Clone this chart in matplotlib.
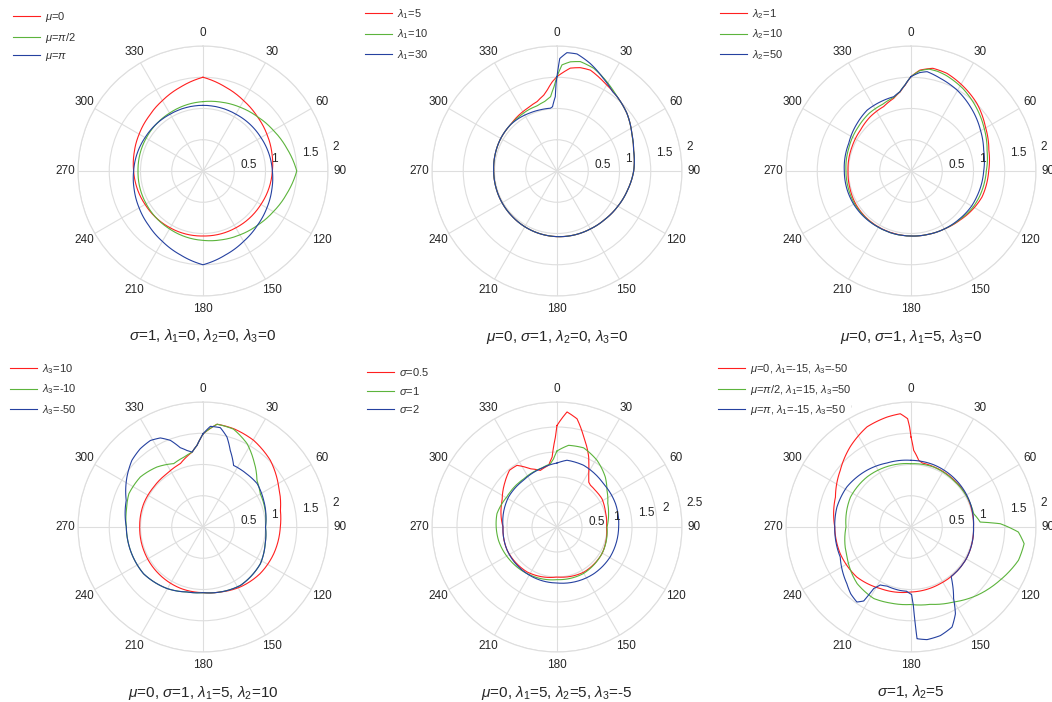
import numpy as np
import matplotlib
matplotlib.use("Agg")
import matplotlib.pyplot as plt
from matplotlib.transforms import ScaledTranslation

plt.rcParams['font.family'] = ['Liberation Sans', 'DejaVu Sans']
plt.rcParams['mathtext.fontset'] = 'custom'
plt.rcParams['mathtext.rm'] = 'Liberation Sans'
plt.rcParams['mathtext.it'] = 'Liberation Sans:italic'
plt.rcParams['mathtext.bf'] = 'Liberation Sans:bold'

# ---- data (angles in degrees, clockwise from north) ----
# panel 1: sigma=1, lambda1=lambda2=lambda3=0
p1_theta = [0, 15, 30, 45, 60, 75, 90, 105, 120, 135, 150, 165, 180,
            195, 210, 225, 240, 255, 270, 285, 300, 315, 330, 345, 360]
p1_mu0 = [1.50, 1.39, 1.30, 1.23, 1.18, 1.14, 1.11, 1.09, 1.07, 1.06, 1.05, 1.045, 1.04,
          1.045, 1.05, 1.06, 1.07, 1.09, 1.11, 1.14, 1.18, 1.23, 1.30, 1.39, 1.50]
p1_mu_half = [1.11, 1.14, 1.18, 1.23, 1.30, 1.39, 1.50, 1.39, 1.30, 1.23, 1.18, 1.14, 1.11,
              1.09, 1.07, 1.06, 1.05, 1.045, 1.04, 1.045, 1.05, 1.06, 1.07, 1.09, 1.11]
p1_mu_pi = [1.05, 1.05, 1.05, 1.06, 1.07, 1.09, 1.11, 1.14, 1.18, 1.23, 1.30, 1.39, 1.50,
            1.39, 1.30, 1.23, 1.18, 1.14, 1.11, 1.09, 1.07, 1.06, 1.05, 1.05, 1.05]

# panel 2: mu=0, sigma=1, lambda2=0, lambda3=0
p2_l5_t = [0, 4, 7.4, 12.7, 18.3, 27.6, 38.9, 50.5, 63.3, 74.7, 90, 105, 120, 135, 150, 165,
           180, 195, 210, 225, 240, 255, 270, 285, 300, 315, 325, 335, 344, 350, 353, 357, 360]
p2_l5_r = [1.51, 1.59, 1.66, 1.695, 1.70, 1.61, 1.53, 1.45, 1.34, 1.27, 1.227, 1.17, 1.125, 1.09,
           1.07, 1.06, 1.05, 1.04, 1.03, 1.02, 1.015, 1.012, 1.013, 1.025, 1.04, 1.05, 1.08, 1.11,
           1.155, 1.23, 1.30, 1.43, 1.51]
p2_l10_t = [0, 2.7, 7, 12, 19.7, 32.3, 38.9, 50.5, 63.3, 74.7, 90, 105, 120, 135, 150, 165,
            180, 195, 210, 225, 240, 255, 270, 285, 300, 315, 325, 335, 343, 350, 355, 358, 360]
p2_l10_r = [1.51, 1.70, 1.76, 1.79, 1.745, 1.60, 1.53, 1.45, 1.34, 1.27, 1.227, 1.17, 1.125, 1.09,
            1.07, 1.06, 1.05, 1.04, 1.03, 1.02, 1.015, 1.012, 1.013, 1.025, 1.04, 1.05, 1.06, 1.08,
            1.09, 1.13, 1.19, 1.35, 1.51]
p2_l30_t = [0, 1.4, 4.8, 9.7, 17.2, 26.3, 35, 38.9, 50.5, 63.3, 74.7, 90, 105, 120, 135, 150, 165,
            180, 195, 210, 225, 240, 255, 270, 285, 300, 315, 325, 335, 345, 354, 356, 358.7, 359.4, 360]
p2_l30_r = [1.51, 1.80, 1.90, 1.90, 1.80, 1.66, 1.55, 1.53, 1.45, 1.34, 1.27, 1.227, 1.17, 1.125,
            1.09, 1.07, 1.06, 1.05, 1.04, 1.03, 1.02, 1.015, 1.012, 1.013, 1.025, 1.04, 1.05, 1.04,
            1.025, 1.015, 1.01, 1.03, 1.19, 1.40, 1.51]

# panel 3: mu=0, sigma=1, lambda1=5, lambda3=0
p3_l1_t = [0, 5, 12, 20.2, 32, 44.3, 59.2, 74.9, 90, 110, 120, 135, 150, 165, 180, 195, 210,
           225, 240, 255, 270, 292.4, 309, 323.2, 337, 346.6, 352.3, 356.2, 360]
p3_l1_r = [1.51, 1.62, 1.68, 1.665, 1.59, 1.51, 1.385, 1.29, 1.243, 1.21, 1.17, 1.11, 1.07, 1.05,
           1.04, 1.035, 1.035, 1.035, 1.03, 1.015, 1.008, 1.02, 1.04, 1.086, 1.12, 1.195, 1.28, 1.38, 1.51]
p3_l10_t = [0, 5, 10, 15, 20, 32, 44, 59, 75, 90, 110, 120, 135, 150, 165, 180, 210, 240, 255,
            270, 290, 310, 324, 337, 347, 352, 356, 360]
p3_l10_r = [1.51, 1.61, 1.655, 1.65, 1.63, 1.56, 1.47, 1.36, 1.26, 1.205, 1.17, 1.15, 1.10, 1.07,
            1.05, 1.04, 1.04, 1.045, 1.04, 1.04, 1.06, 1.10, 1.14, 1.16, 1.21, 1.28, 1.38, 1.51]
p3_l50_t = [0, 5, 9.2, 17.6, 29.6, 42.7, 59.4, 73.9, 90, 111, 120, 135, 150, 165, 180, 210, 240,
            255, 270, 294, 311.4, 324.2, 336.1, 346.9, 352, 356, 360]
p3_l50_r = [1.51, 1.58, 1.61, 1.555, 1.49, 1.40, 1.29, 1.21, 1.163, 1.13, 1.12, 1.09, 1.07, 1.05,
            1.04, 1.04, 1.06, 1.065, 1.067, 1.09, 1.15, 1.20, 1.21, 1.22, 1.28, 1.38, 1.51]

# panel 4: mu=0, sigma=1, lambda1=5, lambda2=10
p4_l10_t = [0, 7.8, 17.3, 30.3, 45.3, 62.1, 77.8, 90, 110.7, 129, 148, 165, 180, 200, 225, 246,
            270, 291.5, 309, 326, 340.3, 351.7, 355.8, 358.3, 360]
p4_l10_r = [1.49, 1.66, 1.648, 1.606, 1.516, 1.37, 1.267, 1.237, 1.21, 1.18, 1.13, 1.076, 1.05,
            1.045, 1.03, 1.02, 1.013, 1.02, 1.016, 1.03, 1.076, 1.21, 1.31, 1.414, 1.49]
p4_lm10_t = [0, 7.8, 17.3, 27.8, 37.2, 49.2, 59.8, 75, 90, 105, 122.6, 147.4, 165, 180, 193.8,
             210.3, 231.8, 252, 270, 282.3, 294.2, 308.6, 322.5, 335.2, 345, 351.7, 355.8, 358.3, 360]
p4_lm10_r = [1.49, 1.66, 1.64, 1.51, 1.34, 1.14, 1.06, 1.03, 1.0, 1.03, 1.09, 1.11, 1.076, 1.05,
             1.07, 1.14, 1.21, 1.22, 1.227, 1.255, 1.30, 1.283, 1.21, 1.117, 1.16, 1.21, 1.31, 1.414, 1.49]
p4_lm50_t = [0, 4.2, 9.9, 14.9, 19.6, 26.4, 39.5, 51.3, 66.3, 81, 90, 105, 122.6, 147.4, 165, 180,
             193.8, 210.3, 231.8, 252, 270, 289.1, 303.3, 313.2, 321.3, 328.7, 334.4, 339.4, 344,
             348.2, 351.7, 355.8, 358.3, 360]
p4_lm50_r = [1.49, 1.615, 1.613, 1.49, 1.30, 1.10, 1.10, 1.11, 1.06, 1.02, 1.0, 1.03, 1.09, 1.11,
             1.076, 1.05, 1.07, 1.14, 1.21, 1.22, 1.227, 1.30, 1.456, 1.56, 1.605, 1.62, 1.58, 1.48,
             1.32, 1.25, 1.21, 1.31, 1.414, 1.49]

# panel 5: mu=0, lambda1=5, lambda2=5, lambda3=-5
p5_s05_t = [0, 5, 10.5, 16.5, 24.3, 26.6, 30.7, 35.1, 38.7, 46.3, 57.8, 71, 90, 120.6, 149.3, 180,
            213.7, 245, 270, 296, 309.4, 320.1, 327, 335.4, 343.6, 352.3, 356, 359, 360]
p5_s05_r = [2.03, 2.31, 2.20, 1.88, 1.54, 1.42, 1.24, 1.10, 1.07, 1.06, 1.063, 1.02, 0.99, 1.046,
            1.05, 1.0, 1.08, 1.10, 1.08, 1.22, 1.36, 1.48, 1.47, 1.28, 1.18, 1.245, 1.40, 1.80, 2.03]
p5_s1_t = [0, 8.1, 18.6, 31, 44, 53.7, 65, 75, 90, 116.6, 150.3, 180, 208.9, 234.5, 257, 273.1,
           282.5, 301, 325.4, 345.8, 354, 357, 360]
p5_s1_r = [1.52, 1.65, 1.67, 1.555, 1.39, 1.24, 1.12, 1.067, 1.0, 1.04, 1.07, 1.053, 1.10, 1.15,
           1.20, 1.22, 1.23, 1.17, 1.17, 1.22, 1.27, 1.36, 1.52]
p5_s2_t = [0, 8.5, 23.4, 47.1, 68.2, 90, 119.4, 141.8, 180, 212.7, 245, 270, 301.8, 324.5, 344, 360]
p5_s2_r = [1.28, 1.35, 1.344, 1.27, 1.26, 1.233, 1.22, 1.19, 1.12, 1.11, 1.10, 1.08, 1.14, 1.15,
           1.21, 1.28]

# panel 6: sigma=1, lambda2=5
p6_a_t = [0, 2, 6.6, 10, 20, 40, 60, 90, 120, 142, 152.6, 180, 206.4, 227.2, 249.3, 270, 291.6,
          308.7, 322.8, 336.3, 347.7, 354.6, 358.2, 359.2, 360]
p6_a_r = [1.44, 1.227, 1.074, 1.04, 1.03, 1.02, 1.02, 1.0, 1.02, 1.02, 1.02, 1.04, 1.10, 1.18,
          1.21, 1.22, 1.30, 1.45, 1.61, 1.75, 1.80, 1.82, 1.734, 1.60, 1.44]
p6_b_t = [0, 20.7, 42.4, 61.8, 78, 85.9, 87.9, 92.7, 98.4, 107.2, 120.8, 136, 150.4, 166, 180,
          195, 207.5, 223.6, 244.9, 270, 296.3, 318.7, 338.4, 360]
p6_b_r = [1.013, 1.026, 1.01, 1.017, 1.025, 1.11, 1.43, 1.72, 1.83, 1.80, 1.66, 1.52, 1.38, 1.275,
          1.24, 1.26, 1.29, 1.25, 1.13, 1.04, 1.08, 1.066, 1.04, 1.013]
p6_c_t = [0, 20, 45, 70, 90, 120, 141, 144, 149.2, 152.9, 157.7, 164.9, 171.9, 176.9, 177.5, 178.3,
          179.5, 184, 189.6, 202, 208, 211.2, 212.6, 215.8, 222, 228.5, 247, 270, 285, 302, 322,
          339.4, 360]
p6_c_r = [1.067, 1.06, 1.04, 1.02, 1.0, 1.02, 1.02, 1.13, 1.33, 1.56, 1.73, 1.80, 1.82, 1.79, 1.55,
          1.25, 1.08, 1.03, 1.03, 1.02, 1.05, 1.15, 1.405, 1.48, 1.44, 1.37, 1.23, 1.22, 1.227, 1.21,
          1.15, 1.094, 1.067]

colors = ['#ff1f1f', '#5cb43c', '#2541a0']

panels = [
    dict(center=(203, 171), rmax=2.0, legend_at=(13, 10),
         curves=[(p1_theta, p1_mu0), (p1_theta, p1_mu_half), (p1_theta, p1_mu_pi)],
         labels=[r'$\mu$=0', r'$\mu$=$\pi$/2', r'$\mu$=$\pi$'],
         title=r'$\sigma$=1, $\lambda_1$=0, $\lambda_2$=0, $\lambda_3$=0'),
    dict(center=(557, 171), rmax=2.0, legend_at=(365, 7),
         curves=[(p2_l5_t, p2_l5_r), (p2_l10_t, p2_l10_r), (p2_l30_t, p2_l30_r)],
         labels=[r'$\lambda_1$=5', r'$\lambda_1$=10', r'$\lambda_1$=30'],
         title=r'$\mu$=0, $\sigma$=1, $\lambda_2$=0, $\lambda_3$=0'),
    dict(center=(911, 171), rmax=2.0, legend_at=(720, 7),
         curves=[(p3_l1_t, p3_l1_r), (p3_l10_t, p3_l10_r), (p3_l50_t, p3_l50_r)],
         labels=[r'$\lambda_2$=1', r'$\lambda_2$=10', r'$\lambda_2$=50'],
         title=r'$\mu$=0, $\sigma$=1, $\lambda_1$=5, $\lambda_3$=0'),
    dict(center=(203, 527), rmax=2.0, legend_at=(10, 362),
         curves=[(p4_l10_t, p4_l10_r), (p4_lm10_t, p4_lm10_r), (p4_lm50_t, p4_lm50_r)],
         labels=[r'$\lambda_3$=10', r'$\lambda_3$=-10', r'$\lambda_3$=-50'],
         title=r'$\mu$=0, $\sigma$=1, $\lambda_1$=5, $\lambda_2$=10'),
    dict(center=(557, 527), rmax=2.5, legend_at=(367, 366),
         curves=[(p5_s05_t, p5_s05_r), (p5_s1_t, p5_s1_r), (p5_s2_t, p5_s2_r)],
         labels=[r'$\sigma$=0.5', r'$\sigma$=1', r'$\sigma$=2'],
         title=r'$\mu$=0, $\lambda_1$=5, $\lambda_2$=5, $\lambda_3$=-5'),
    dict(center=(911, 527), rmax=2.0, legend_at=(718, 362),
         curves=[(p6_a_t, p6_a_r), (p6_b_t, p6_b_r), (p6_c_t, p6_c_r)],
         labels=[r'$\mu$=0, $\lambda_1$=-15, $\lambda_3$=-50',
                 r'$\mu$=$\pi$/2, $\lambda_1$=15, $\lambda_3$=50',
                 r'$\mu$=$\pi$, $\lambda_1$=-15, $\lambda_3$=50'],
         title=r'$\sigma$=1, $\lambda_2$=5'),
]

W, H = 1052, 702
R = 125
fig = plt.figure(figsize=(W / 100, H / 100), dpi=100)
label_shift = ScaledTranslation(7 / 100, -3 / 100, fig.dpi_scale_trans)

for p in panels:
    cx, cy = p['center']
    ax = fig.add_axes([(cx - R) / W, (H - cy - R) / H, 2 * R / W, 2 * R / H], projection='polar')
    ax.set_theta_zero_location('N')
    ax.set_theta_direction(-1)

    lines = []
    for (t, r), c in zip(p['curves'], colors):
        ln, = ax.plot(np.deg2rad(t), r, color=c, lw=0.8)
        # let the polar transform draw each segment as a spiral arc
        ln.get_path()._interpolation_steps = 40
        lines.append(ln)

    rmax = p['rmax']
    rt = np.arange(0.5, rmax + 0.01, 0.5)
    ax.set_ylim(0, rmax)
    ax.set_rgrids(rt, labels=['' for v in rt])
    for v in rt:
        ax.text(np.deg2rad(79), v, '%g' % v, transform=ax.transData + label_shift,
                ha='left', va='baseline', fontsize=8.5, color='#262626')
    angs = np.arange(0, 360, 30)
    ax.set_thetagrids(angs, labels=[str(a) for a in angs], fontsize=8.5, color='#262626')
    ax.tick_params(axis='x', pad=-1.5)
    ax.grid(color='#dedede', lw=0.8)
    ax.spines['polar'].set_color('#dedede')
    ax.spines['polar'].set_linewidth(0.8)

    lx, ly = p['legend_at']
    leg = ax.legend(lines, p['labels'], loc='upper left', bbox_to_anchor=(lx / W, 1 - ly / H),
                    bbox_transform=fig.transFigure, frameon=True, fontsize=8,
                    handlelength=2.4, handletextpad=0.45, labelspacing=0.6,
                    borderpad=0, borderaxespad=0, labelcolor='#333333',
                    facecolor='white', edgecolor='none', framealpha=1, fancybox=False)
    leg.set_zorder(10)

    fig.text(cx / W, 1 - (cy + 170) / H, p['title'], ha='center', va='baseline',
             fontsize=11, color='#262626')

fig.savefig('out.png', dpi=100)
